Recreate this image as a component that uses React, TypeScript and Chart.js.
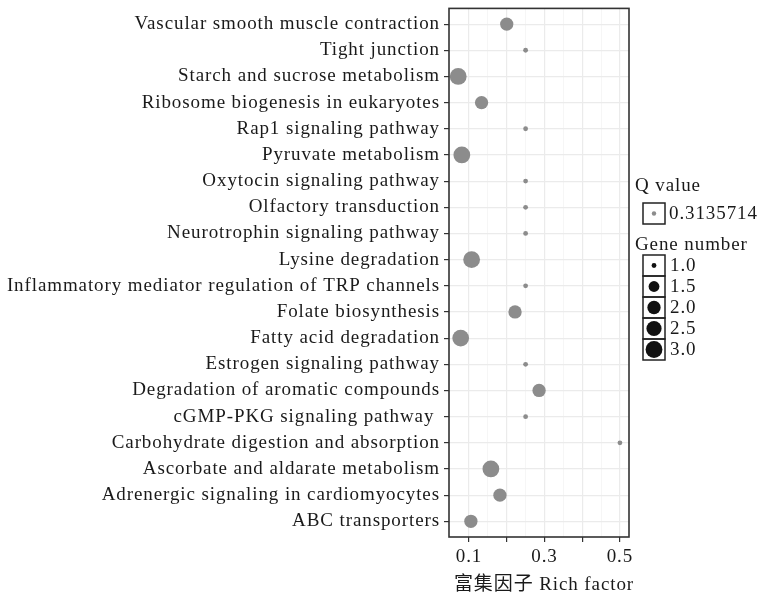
import React, { useEffect, useRef } from "react";
import { Chart, registerables } from "chart.js";

Chart.register(...registerables);

const pathways = [
  "Vascular smooth muscle contraction",
  "Tight junction",
  "Starch and sucrose metabolism",
  "Ribosome biogenesis in eukaryotes",
  "Rap1 signaling pathway",
  "Pyruvate metabolism",
  "Oxytocin signaling pathway",
  "Olfactory transduction",
  "Neurotrophin signaling pathway",
  "Lysine degradation",
  "Inflammatory mediator regulation of TRP channels",
  "Folate biosynthesis",
  "Fatty acid degradation",
  "Estrogen signaling pathway",
  "Degradation of aromatic compounds",
  "cGMP-PKG signaling pathway ",
  "Carbohydrate digestion and absorption",
  "Ascorbate and aldarate metabolism",
  "Adrenergic signaling in cardiomyocytes",
  "ABC transporters",
];

const richFactor = [
  0.2, 0.25, 0.0714, 0.1333, 0.25, 0.081, 0.25, 0.25, 0.25, 0.107,
  0.25, 0.222, 0.078, 0.25, 0.2857, 0.25, 0.5, 0.158, 0.182, 0.105,
];

const geneNumber = [2, 1, 3, 2, 1, 3, 1, 1, 1, 3, 1, 2, 3, 1, 2, 1, 1, 3, 2, 2];

const qValueLegend = "0.3135714";
const legendGeneValues = [1.0, 1.5, 2.0, 2.5, 3.0];
const xGridValues = [0.1, 0.15, 0.2, 0.25, 0.3, 0.35, 0.4, 0.45, 0.5];
const xLabeledValues = [0.1, 0.3, 0.5];
const xTickLabels = ["0.1", "0.3", "0.5"];
const xTitle = "富集因子 Rich factor";
const qTitle = "Q value";
const geneTitle = "Gene number";

const FONT = '"Liberation Serif", "Noto Sans CJK SC", serif';
const FS = 19;
const SPACING = "0.9px";
const TEXT = "#1a1a1a";
const POINT = "#8c8c8c";

function geneRadius(v: number): number {
  const t = Math.max(0, (v - 1) / 2);
  return 1.2 + 1.2 * (1 + 5 * Math.sqrt(t));
}

const isMajor = (v: number) => Math.round(v * 100) % 10 === 0;

const setSpacing = (chart: any) => {
  if (chart.ctx) (chart.ctx as any).letterSpacing = SPACING;
};

const spacingPlugin = {
  id: "spacing",
  beforeInit: setSpacing,
  beforeUpdate: setSpacing,
  beforeLayout: setSpacing,
  beforeDraw: setSpacing,
};

const framePlugin = {
  id: "frame",
  afterDraw(chart: any) {
    const { ctx, chartArea } = chart;
    ctx.save();
    ctx.letterSpacing = SPACING;
    ctx.strokeStyle = "#333333";
    ctx.lineWidth = 1.6;
    ctx.strokeRect(
      chartArea.left,
      chartArea.top,
      chartArea.right - chartArea.left,
      chartArea.bottom - chartArea.top
    );

    ctx.fillStyle = TEXT;
    ctx.font = `${FS}px ${FONT}`;
    ctx.textBaseline = "middle";

    // x axis title
    ctx.textAlign = "center";
    ctx.fillText(xTitle, (chartArea.left + chartArea.right) / 2 + 5, 585);

    // legend
    ctx.textAlign = "left";
    ctx.fillText(qTitle, 635, 186);

    const kx = 643;
    const kw = 22;
    ctx.lineWidth = 1.5;
    ctx.strokeStyle = "#222";
    ctx.strokeRect(kx, 203, kw, 21);
    ctx.beginPath();
    ctx.fillStyle = POINT;
    ctx.arc(kx + kw / 2, 213.5, 2.2, 0, Math.PI * 2);
    ctx.fill();
    ctx.fillStyle = TEXT;
    ctx.fillText(qValueLegend, 669, 214);

    ctx.fillText(geneTitle, 635, 245);
    const top = 255;
    const kh = 21;
    legendGeneValues.forEach((v, i) => {
      const y = top + i * kh;
      ctx.strokeStyle = "#222";
      ctx.strokeRect(kx, y, kw, kh);
      ctx.beginPath();
      ctx.fillStyle = "#111";
      ctx.arc(kx + kw / 2, y + kh / 2, geneRadius(v), 0, Math.PI * 2);
      ctx.fill();
      ctx.fillStyle = TEXT;
      ctx.fillText(v.toFixed(1), 670, y + kh / 2 + 1);
    });
    ctx.restore();
  },
};

export default function App() {
  const ref = useRef<HTMLCanvasElement | null>(null);

  useEffect(() => {
    document.body.style.margin = "0";
    const canvas = ref.current;
    if (!canvas) return;
    const chart = new Chart(canvas, {
      type: "bubble",
      data: {
        datasets: [
          {
            data: pathways.map((_, i) => ({
              x: richFactor[i],
              y: i,
              r: geneRadius(geneNumber[i]),
            })),
            backgroundColor: POINT,
            borderWidth: 0,
          },
        ],
      },
      options: {
        responsive: false,
        animation: false,
        events: [],
        layout: { padding: { left: 0, right: 135, top: 6, bottom: 0 } },
        plugins: {
          legend: { display: false },
          tooltip: { enabled: false },
        },
        scales: {
          x: {
            type: "linear",
            position: "bottom",
            min: 0.047,
            max: 0.524,
            afterBuildTicks: (s: any) => {
              s.ticks = xGridValues.map((v) => ({ value: v }));
            },
            afterFit: (s: any) => {
              s.height = 67;
              s.paddingLeft = 0;
              s.paddingRight = 0;
            },
            border: { display: false },
            grid: {
              color: (c: any) => (isMajor(c.tick.value) ? "#ebebeb" : "#f4f4f4"),
              lineWidth: (c: any) => (isMajor(c.tick.value) ? 1.2 : 0.8),
              tickColor: (c: any) =>
                isMajor(c.tick.value) ? "#333333" : "rgba(0,0,0,0)",
              tickLength: 5,
            },
            ticks: {
              autoSkip: false,
              maxRotation: 0,
              padding: 4,
              color: TEXT,
              font: { family: FONT, size: FS },
              callback: (v: any) => {
                const idx = xLabeledValues.findIndex((x) => Math.abs(x - v) < 1e-6);
                return idx >= 0 ? xTickLabels[idx] : "";
              },
            },
            title: { display: false },
          },
          y: {
            type: "linear",
            min: -0.6,
            max: 19.6,
            reverse: true,
            afterBuildTicks: (s: any) => {
              s.ticks = pathways.map((_, i) => ({ value: i }));
            },
            afterFit: (s: any) => {
              s.width = 449;
              s.paddingTop = 0;
              s.paddingBottom = 0;
            },
            border: { display: false },
            grid: {
              color: "#ebebeb",
              lineWidth: 1.2,
              tickColor: "#333333",
              tickLength: 5,
            },
            ticks: {
              autoSkip: false,
              padding: 4,
              color: TEXT,
              font: { family: FONT, size: FS },
              callback: (v: any) => pathways[v as number],
            },
          },
        },
      },
      plugins: [spacingPlugin, framePlugin],
    } as any);
    return () => chart.destroy();
  }, []);

  return <canvas ref={ref} width={764} height={604} style={{ display: "block" }} />;
}
